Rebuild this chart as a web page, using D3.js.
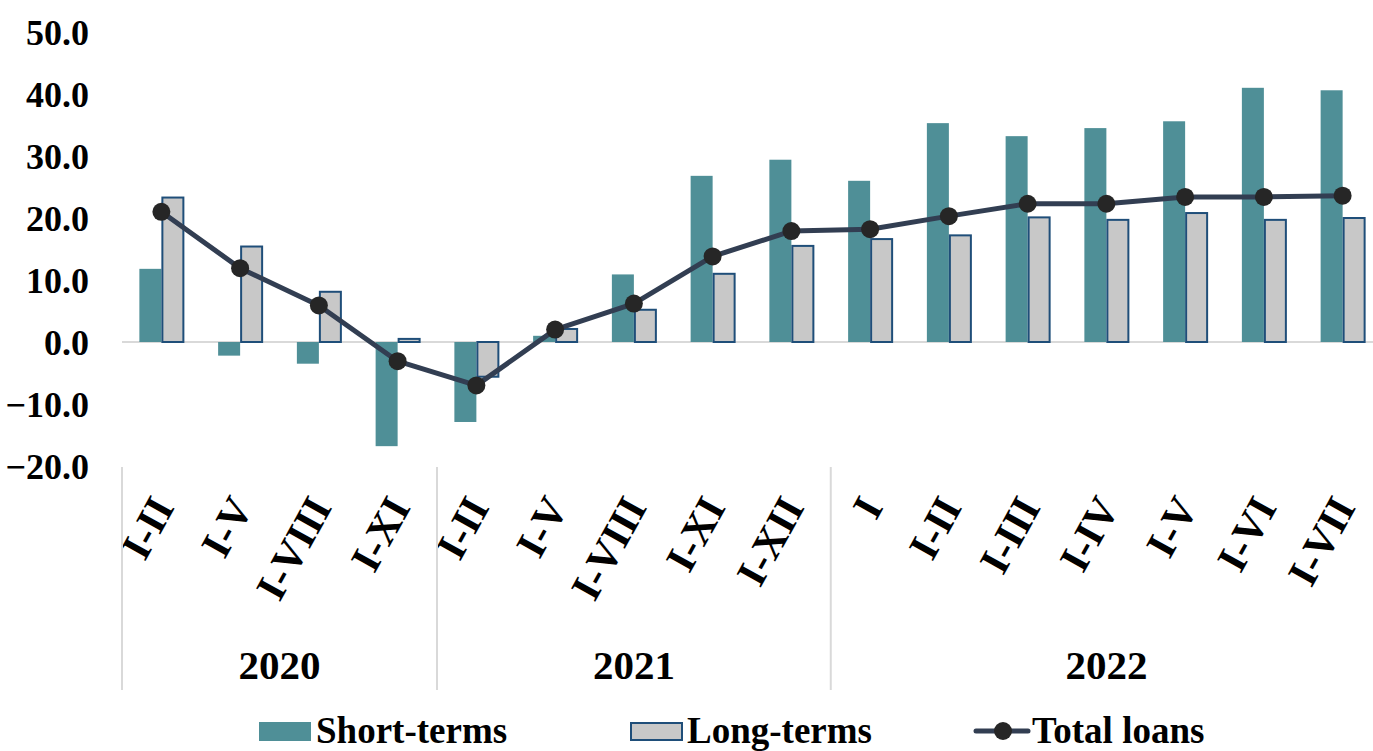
<!DOCTYPE html>
<html>
<head>
<meta charset="utf-8">
<script src="https://cdn.jsdelivr.net/npm/d3@7"></script>
<style>
  body { margin: 0; background: #fff; }
  text { font-family: "Liberation Serif", "Times New Roman", serif; font-weight: bold; fill: #000; }
</style>
</head>
<body>
<svg id="chart" width="1373" height="751"></svg>
<script>
// data
const periods = ['I-II', 'I-V', 'I-VIII', 'I-XI',
  'I-II', 'I-V', 'I-VIII', 'I-XI', 'I-XII',
  'I', 'I-II', 'I-III', 'I-IV', 'I-V', 'I-VI', 'I-VII'];
const years = [
  { year: '2020', count: 4 },
  { year: '2021', count: 5 },
  { year: '2022', count: 7 },
];
const shortTerms = [11.8, -2.2, -3.5, -16.8, -12.9, 1.0, 10.9, 26.8, 29.4, 26.0, 35.3, 33.2, 34.5, 35.6, 41.0, 40.6];
const longTerms = [23.3, 15.4, 8.1, 0.5, -5.6, 2.1, 5.2, 11.0, 15.5, 16.6, 17.2, 20.1, 19.7, 20.8, 19.7, 20.0];
const totalLoans = [21.0, 11.9, 5.9, -3.1, -7.0, 2.0, 6.2, 13.8, 17.9, 18.2, 20.3, 22.3, 22.3, 23.4, 23.4, 23.6];
const yTicks = [-20, -10, 0, 10, 20, 30, 40, 50];

const COLORS = {
  short: '#4f8f97',
  long: '#c8c8c8',
  longStroke: '#1f4e79',
  line: '#323e52',
  marker: '#262626',
  grid: '#d9d9d9',
};

const svg = d3.select('#chart');
const plotLeft = 122;
const step = 78.75;
const plotRight = plotLeft + step * periods.length;
const plotTop = 32;
const plotBottom = 466;

const x = d3.scaleBand()
  .domain(d3.range(periods.length))
  .range([plotLeft, plotRight])
  .paddingInner(0)
  .paddingOuter(0);

const y = d3.scaleLinear()
  .domain([-20, 50])
  .range([plotBottom, plotTop]);

const barW = 22;
const cx = (i) => x(i) + x.bandwidth() / 2;

// y axis (labels only)
const yAxis = svg.append('g')
  .attr('transform', `translate(${89},0)`)
  .call(d3.axisLeft(y).tickValues(yTicks).tickSize(0).tickPadding(0).tickFormat(d3.format('.1f')));
yAxis.select('.domain').remove();
yAxis.selectAll('text')
  .style('font-family', '"Liberation Serif", serif')
  .style('font-weight', 'bold')
  .style('font-size', '36px')
  .attr('fill', '#000')
  .attr('dy', '0.35em');

// zero line
svg.append('line')
  .attr('x1', plotLeft).attr('x2', plotRight)
  .attr('y1', y(0)).attr('y2', y(0))
  .attr('stroke', COLORS.grid)
  .attr('stroke-width', 2);

// bars
svg.append('g').selectAll('rect')
  .data(shortTerms)
  .join('rect')
  .attr('x', (d, i) => cx(i) - barW)
  .attr('width', barW)
  .attr('y', (d) => y(Math.max(0, d)))
  .attr('height', (d) => Math.abs(y(d) - y(0)))
  .attr('fill', COLORS.short);

svg.append('g').selectAll('rect')
  .data(longTerms)
  .join('rect')
  .attr('x', (d, i) => cx(i) + 1)
  .attr('width', barW - 1)
  .attr('y', (d) => y(Math.max(0, d)))
  .attr('height', (d) => Math.abs(y(d) - y(0)))
  .attr('fill', COLORS.long)
  .attr('stroke', COLORS.longStroke)
  .attr('stroke-width', 2);

// total loans line
const line = d3.line()
  .x((d, i) => cx(i))
  .y((d) => y(d));

svg.append('path')
  .datum(totalLoans)
  .attr('d', line)
  .attr('fill', 'none')
  .attr('stroke', COLORS.line)
  .attr('stroke-width', 5)
  .attr('stroke-linejoin', 'round');

svg.append('g').selectAll('circle')
  .data(totalLoans)
  .join('circle')
  .attr('cx', (d, i) => cx(i))
  .attr('cy', (d) => y(d))
  .attr('r', 9)
  .attr('fill', COLORS.marker);

// category labels
svg.append('g').selectAll('text')
  .data(periods)
  .join('text')
  .attr('transform', (d, i) => `translate(${cx(i) + 1},${500}) rotate(-61)`)
  .attr('text-anchor', 'end')
  .attr('dy', '0.35em')
  .style('font-size', '42px')
  .text((d) => d);

// year groups
let start = 0;
const groups = years.map((g) => {
  const out = { ...g, start };
  start += g.count;
  return out;
});

svg.append('g').selectAll('line')
  .data([...groups.map((g) => g.start), periods.length])
  .join('line')
  .attr('x1', (d) => plotLeft + d * step)
  .attr('x2', (d) => plotLeft + d * step)
  .attr('y1', plotBottom + 1)
  .attr('y2', 690)
  .attr('stroke', COLORS.grid)
  .attr('stroke-width', 2);

svg.append('g').selectAll('text')
  .data(groups)
  .join('text')
  .attr('x', (g) => plotLeft + (g.start + g.count / 2) * step)
  .attr('y', 679)
  .attr('text-anchor', 'middle')
  .style('font-size', '41px')
  .text((g) => g.year);

// legend
const legend = svg.append('g');
legend.append('rect')
  .attr('x', 259).attr('y', 722).attr('width', 52).attr('height', 19)
  .attr('fill', COLORS.short);
legend.append('text')
  .attr('x', 316).attr('y', 743)
  .style('font-size', '37px')
  .text('Short-terms');

legend.append('rect')
  .attr('x', 631).attr('y', 723).attr('width', 51).attr('height', 17)
  .attr('fill', COLORS.long)
  .attr('stroke', COLORS.longStroke)
  .attr('stroke-width', 2);
legend.append('text')
  .attr('x', 687).attr('y', 743)
  .style('font-size', '37px')
  .text('Long-terms');

legend.append('line')
  .attr('x1', 976).attr('x2', 1028)
  .attr('y1', 731).attr('y2', 731)
  .attr('stroke', COLORS.line)
  .attr('stroke-width', 5)
  .attr('stroke-linecap', 'round');
legend.append('circle')
  .attr('cx', 1003).attr('cy', 731).attr('r', 9)
  .attr('fill', COLORS.marker);
legend.append('text')
  .attr('x', 1032).attr('y', 743)
  .style('font-size', '37px')
  .text('Total loans');
</script>
</body>
</html>
